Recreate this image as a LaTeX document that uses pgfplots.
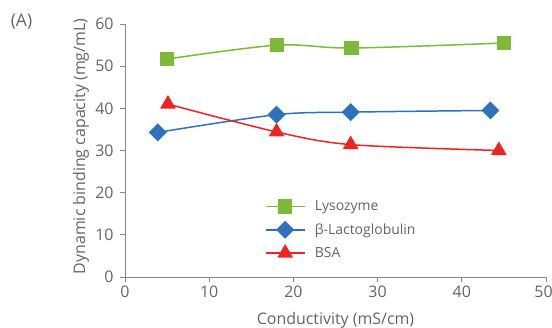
\documentclass[border=0pt]{standalone}
\usepackage{fontspec}
\setmainfont{Open Sans}
\usepackage{pgfplots}
\pgfplotsset{compat=1.18}

\definecolor{lysgreen}{RGB}{125,186,58}
\definecolor{lacblue}{RGB}{46,114,187}
\definecolor{bsared}{RGB}{236,36,36}
\definecolor{txtgray}{RGB}{100,100,100}
\definecolor{axgray}{RGB}{135,135,135}

\begin{document}
\begin{tikzpicture}
\begin{axis}[
  at={(125bp,51bp)}, anchor=south west,
  scale only axis, width=421bp, height=253bp,
  xmin=0, xmax=50, ymin=0, ymax=60,
  xtick={0,10,...,40}, ytick={0,10,...,60},
  % last x label nudged inwards so it stays on the page
  extra x ticks={50},
  extra x tick style={xticklabel style={xshift=-2.5bp}},
  axis x line*=bottom, axis y line*=left,
  axis line style={axgray, line width=1pt},
  tick style={axgray, line width=1pt},
  tick align=outside, major tick length=5bp,
  /pgf/number format/assume math mode=true,
  tick label style={font=\fontsize{16}{18}\selectfont, text=txtgray},
  yticklabel style={xshift=-3bp},
  label style={font=\fontsize{16}{18}\selectfont, text=txtgray},
  xlabel={Conductivity (mS/cm)},
  ylabel={Dynamic binding capacity (mg/mL)},
  xlabel style={at={(axis description cs:0.5,-0.186)}, anchor=base},
  ylabel style={at={(axis description cs:-0.095,0.516)}, anchor=base},
  legend cell align=left,
  legend style={draw=none, fill=none, at={(axis description cs:0.326,0.318)}, anchor=north west,
    font=\fontsize{14}{16}\selectfont, text=txtgray, row sep=7.5bp,
    nodes={inner ysep=2pt},
    /tikz/every odd column/.append style={column sep=8bp}},
  legend image code/.code={\draw[mark repeat=2, mark phase=2] plot coordinates {(0bp,0bp) (19bp,0bp) (38bp,0bp)};},
  every axis plot/.append style={line width=1.5pt, smooth, tension=0.5},
]
\addplot[lysgreen, mark=square*, mark size=6.3bp, mark options={solid}]
  coordinates {(5.0,51.7) (18.1,55.0) (26.9,54.3) (45.0,55.5)};
\addlegendentry{Lysozyme}
\addplot[lacblue, mark=square*, mark size=5.6bp, mark options={solid, rotate=45}]
  coordinates {(3.9,34.3) (18.0,38.5) (26.8,39.1) (43.4,39.5)};
\addlegendentry{β-Lactoglobulin}
\addplot[bsared, mark=triangle*, mark size=7.6bp, mark options={solid}]
  coordinates {(5.1,41.0) (18.0,34.4) (26.8,31.4) (44.4,30.0)};
\addlegendentry{BSA}
\end{axis}
\node[text=txtgray, font=\fontsize{17.5}{20}\selectfont] at (21.5bp,306bp) {(A)};
\pgfresetboundingbox
\path (0,0) rectangle (552bp,328bp);
\end{tikzpicture}
\end{document}
